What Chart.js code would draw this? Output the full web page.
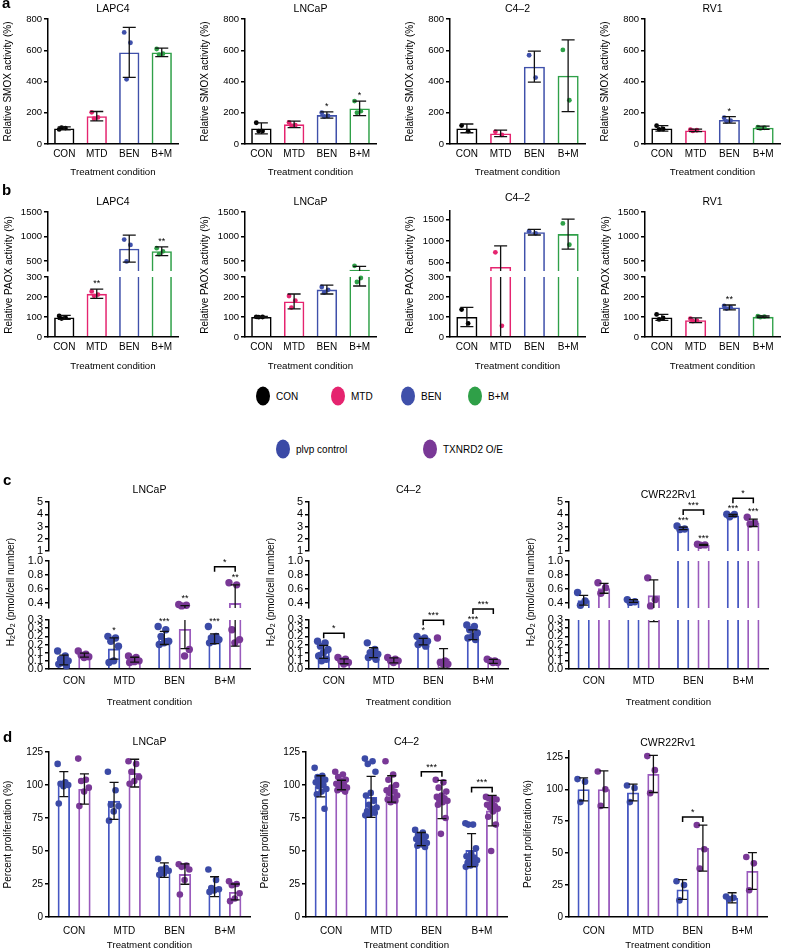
<!DOCTYPE html>
<html>
<head>
<meta charset="utf-8">
<script src="https://cdn.jsdelivr.net/npm/chart.js@4.4.1/dist/chart.umd.min.js"></script>
<style>
  body { margin: 0; background: #fff; }
  #fig { position: relative; width: 789px; height: 951px; overflow: hidden; background: #fff;
         font-family: 'Liberation Sans', Arial, Helvetica, sans-serif; color: #000; }
  #fig canvas { position: absolute; }
  .letter { position: absolute; font-weight: bold; font-size: 15px; line-height: 15px; }
  .leg { position: absolute; font-size: 10px; white-space: nowrap; transform: translateY(-50%); }
  .dot { position: absolute; width: 14px; height: 19px; border-radius: 50%; transform: translate(-50%, -50%); }
</style>
</head>
<body>
<div id="fig"></div>
<script>
/* SMOX / PAOX / H2O2 / proliferation panels, bars = mean, whiskers = SD */

const FONT = "'Liberation Sans', Arial, Helvetica, sans-serif";

const conditions = ['CON', 'MTD', 'BEN', 'B+M'];
const conditionColors = ['#000000', '#e5246f', '#3f50aa', '#2fa048'];
const groupNames = ['plvp control', 'TXNRD2 O/E'];
const groupColors = ['#4657c2', '#9a5bbd'];
const groupPointColors = ['#3b4aa6', '#793896'];

// tick values per axis part
const smoxTicks = [0, 200, 400, 600, 800];
const paoxLowTicks = [0, 100, 200, 300];
const paoxHighTicks = [500, 1000, 1500];
const h2o2LowTicks = [0, 0.05, 0.1, 0.15, 0.2, 0.25, 0.3];
const h2o2LowTickLabels = ['0.0', '0.1', '0.1', '0.2', '0.2', '0.3', '0.3'];
const h2o2MidTicks = [0.4, 0.6, 0.8, 1.0];
const h2o2HighTicks = [1, 2, 3, 4, 5];
const proTicks = [0, 25, 50, 75, 100, 125];

// ---- a: relative SMOX activity ----
const smoxLapc4Mean = [100, 178, 586, 586];
const smoxLapc4Sd = [10, 30, 160, 27];
const smoxLapc4Pts = [[93, 102, 105], [203, 170, 162], [714, 648, 414], [608, 578, 572]];
const smoxLapc4Sig = ['', '', '', ''];

const smoxLncapMean = [100, 126, 185, 228];
const smoxLncapSd = [35, 21, 20, 47];
const smoxLncapPts = [[136, 83, 83], [138, 120, 118], [200, 180, 176], [275, 210, 200]];
const smoxLncapSig = ['', '', '*', '*'];

const smoxC42Mean = [100, 68, 495, 437];
const smoxC42Sd = [28, 21, 99, 230];
const smoxC42Pts = [[118, 82], [78, 58], [568, 425], [602, 280]];
const smoxC42Sig = ['', '', '', ''];

const smoxRv1Mean = [100, 87, 154, 104];
const smoxRv1Sd = [18, 8, 21, 10];
const smoxRv1Pts = [[117, 96, 94], [92, 88, 84], [168, 150, 145], [108, 104, 100]];
const smoxRv1Sig = ['', '', '*', ''];

// ---- b: relative PAOX activity ----
const paoxLapc4Mean = [98, 216, 755, 702];
const paoxLapc4Sd = [10, 23, 275, 90];
const paoxLapc4Pts = [[105, 98, 92], [228, 212, 206], [940, 830, 495], [765, 700, 642]];
const paoxLapc4Sig = ['', '**', '', '**'];

const paoxLncapMean = [100, 178, 237, 325];
const paoxLncapSd = [3, 37, 22, 70];
const paoxLncapPts = [[101, 100, 99], [205, 182, 147], [250, 236, 222], [405, 295, 275]];
const paoxLncapSig = ['', '', '', ''];

const paoxC42Mean = [100, 396, 1205, 1161];
const paoxC42Sd = [48, 490, 65, 350];
const paoxC42Pts = [[137, 68], [736, 56], [1230, 1180], [1409, 913]];
const paoxC42Sig = ['', '', '', ''];

const paoxRv1Mean = [98, 84, 148, 101];
const paoxRv1Sd = [15, 12, 12, 4];
const paoxRv1Pts = [[113, 95, 88], [92, 82, 79], [155, 148, 142], [104, 102, 99]];
const paoxRv1Sig = ['', '', '**', ''];

// ---- c: H2O2 (plvp control, TXNRD2 O/E) ----
const h2o2LncapMean = [[0.055, 0.125, 0.19, 0.185], [0.085, 0.057, 0.245, 0.40]];
const h2o2LncapSd = [[0.03, 0.065, 0.04, 0.03], [0.012, 0.015, 0.12, 0.26]];
const h2o2LncapPts = [
  [[0.11, 0.08, 0.06, 0.05, 0.04, 0.03, 0.02], [0.20, 0.19, 0.17, 0.14, 0.05, 0.04],
   [0.26, 0.24, 0.20, 0.17, 0.16, 0.15], [0.26, 0.20, 0.19, 0.18, 0.17, 0.16]],
  [[0.11, 0.09, 0.085, 0.075, 0.07], [0.08, 0.07, 0.06, 0.05, 0.045, 0.04],
   [0.38, 0.37, 0.36, 0.12, 0.08], [0.69, 0.66, 0.24, 0.18, 0.16]]
];
const h2o2LncapSig = [['', '*', '***', '***'], ['', '', '**', '**']];
const h2o2LncapBrk = [[3, '*']];

const h2o2C42Mean = [[0.105, 0.10, 0.168, 0.21], [0.047, 0.053, 0.065, 0.047]];
const h2o2C42Sd = [[0.04, 0.03, 0.02, 0.03], [0.015, 0.015, 0.06, 0.012]];
const h2o2C42Pts = [
  [[0.17, 0.16, 0.14, 0.12, 0.10, 0.08, 0.06, 0.05], [0.16, 0.12, 0.10, 0.09, 0.08, 0.07, 0.06],
   [0.20, 0.19, 0.18, 0.17, 0.16, 0.15, 0.14], [0.27, 0.26, 0.24, 0.22, 0.20, 0.19, 0.18]],
  [[0.07, 0.06, 0.05, 0.04, 0.03], [0.07, 0.06, 0.05, 0.05, 0.04],
   [0.19, 0.05, 0.04, 0.03, 0.03], [0.06, 0.05, 0.05, 0.04, 0.04]]
];
const h2o2C42Sig = [['', '', '*', '***'], ['', '', '', '']];
const h2o2C42Brk = [[0, '*'], [2, '***'], [3, '***']];

const h2o2RvMean = [[0.44, 0.43, 2.85, 3.9], [0.61, 0.51, 1.5, 3.3]];
const h2o2RvSd = [[0.07, 0.02, 0.1, 0.08], [0.07, 0.22, 0.04, 0.3]];
const h2o2RvPts = [
  [[0.55, 0.43, 0.37], [0.45, 0.42, 0.41], [3.05, 2.8, 2.75], [4.0, 3.98, 3.8]],
  [[0.69, 0.62, 0.54], [0.76, 0.45, 0.36], [1.55, 1.5, 1.47], [3.75, 3.3, 3.2]]
];
const h2o2RvSig = [['', '', '***', '***'], ['', '', '***', '***']];
const h2o2RvBrk = [[2, '***'], [3, '*']];

// ---- d: percent proliferation ----
const proLncapMean = [[100.7, 88, 35.5, 23], [97, 109, 32.5, 19]];
const proLncapSd = [[9.5, 14, 5.5, 7.5], [11.5, 10.5, 7.7, 6]];
const proLncapPts = [
  [[116, 102, 101, 100, 99, 86], [110, 96, 85, 84, 80, 73], [44, 37, 36, 35, 33, 32], [36, 28, 22, 21, 20, 19]],
  [[120, 104, 103, 98, 95, 84], [118, 116, 110, 106, 103, 101], [40, 39, 38, 36, 28, 17], [27, 25, 24, 18, 14, 12]]
];

const proC42Mean = [[99, 91, 59, 50.7], [100, 97, 89, 80.6]];
const proC42Sd = [[8, 15.5, 5, 12.5], [3.6, 10, 14.5, 11.5]];
const proC42Pts = [
  [[113, 107, 106, 104, 103, 102, 100, 99, 97, 95, 93, 82],
   [120, 118, 116, 110, 94, 92, 88, 85, 83, 82, 80, 79, 78, 77],
   [66, 64, 62, 61, 60, 59, 58, 57, 56, 55, 54, 53],
   [71, 70, 70, 52, 48, 46, 45, 44, 43, 42, 41, 40, 39, 38]],
  [[110, 108, 106, 104, 103, 101, 100, 99, 98, 97, 96, 95],
   [118, 108, 104, 100, 98, 96, 95, 94, 92, 90, 89, 88, 87],
   [104, 102, 98, 95, 92, 91, 90, 89, 88, 87, 85, 75, 63],
   [91, 90, 90, 89, 87, 85, 84, 83, 82, 80, 76, 70, 50]]
];
const proC42Brk = [[2, '***'], [3, '***']];

const proRvMean = [[100, 97.5, 21.5, 15], [100, 112, 54, 36]];
const proRvSd = [[9, 6.5, 7.7, 4], [14.4, 14.5, 18, 14.4]];
const proRvPts = [
  [[108, 106, 90], [103, 101, 90], [28, 25, 13], [16, 15, 14]],
  [[114, 100, 87], [126, 115, 97], [72, 53, 38], [47, 42, 21]]
];
const proRvBrk = [[2, '*']];

Chart.defaults.font.family = FONT;
Chart.defaults.font.size = 10;
Chart.defaults.color = '#000';

const fig = document.getElementById('fig');

function addDiv(cls, html, x, y) {
  const d = document.createElement('div');
  d.className = cls;
  d.innerHTML = html;
  d.style.left = x + 'px';
  d.style.top = y + 'px';
  fig.appendChild(d);
  return d;
}

// spread points sideways inside their bar, same order every run
function jitter(k, n) {
  return n > 1 ? ((k * 0.618034) % 1) - 0.5 : 0;
}

function single(mean, sd, pts, sig) {
  return [{ mean, sd, pts, sig, line: conditionColors, dot: conditionColors }];
}

function grouped(mean, sd, pts, sig) {
  return mean.map((m, g) => ({
    mean: m, sd: sd[g], pts: pts[g], sig: sig ? sig[g] : null,
    line: groupColors[g], dot: groupPointColors[g]
  }));
}

// rotated axis title with optional subscripts, centred on (0,0)
function drawRich(ctx, parts, size) {
  const fontOf = sub => (sub ? size * 0.7 : size) + 'px ' + FONT;
  const widths = parts.map(([t, sub]) => { ctx.font = fontOf(sub); return ctx.measureText(t).width; });
  let x = -widths.reduce((a, b) => a + b, 0) / 2;
  parts.forEach(([t, sub], i) => {
    ctx.font = fontOf(sub);
    ctx.fillText(t, x, sub ? 2.5 : 0);
    x += widths[i];
  });
}

function makeMarks(o) {
  return {
    id: 'marks',
    afterDatasetsDraw(chart) {
      const { ctx, chartArea: a } = chart;
      const y = chart.scales.y;
      const px = v => y.getPixelForValue(Math.min(v, y.max));

      // points belong to the axis part that holds their value
      o.series.forEach((s, di) => {
        const bars = chart.getDatasetMeta(di).data;
        s.pts.forEach((vals, i) => {
          ctx.fillStyle = Array.isArray(s.dot) ? s.dot[i] : s.dot;
          vals.forEach((v, k) => {
            if (v < y.min || v > y.max) return;
            ctx.beginPath();
            ctx.arc(bars[i].x + jitter(k, vals.length) * bars[i].width * o.spread,
                    y.getPixelForValue(v), o.r, 0, 2 * Math.PI);
            ctx.fill();
          });
        });
      });

      // SD whiskers, cut at the edges of this axis part
      ctx.save();
      ctx.beginPath();
      ctx.rect(a.left - 20, a.top, a.right - a.left + 40, a.bottom - a.top);
      ctx.clip();
      ctx.strokeStyle = '#111';
      ctx.lineWidth = 1.3;
      o.series.forEach((s, di) => {
        const bars = chart.getDatasetMeta(di).data;
        s.mean.forEach((m, i) => {
          const x = bars[i].x;
          const hi = y.getPixelForValue(m + s.sd[i]);
          const lo = y.getPixelForValue(m - s.sd[i]);
          ctx.beginPath();
          ctx.moveTo(x, hi); ctx.lineTo(x, lo);
          ctx.moveTo(x - o.cap, hi); ctx.lineTo(x + o.cap, hi);
          ctx.moveTo(x - o.cap, lo); ctx.lineTo(x + o.cap, lo);
          ctx.stroke();
        });
      });
      ctx.restore();

      // significance stars and brackets
      const topVal = (s, i) => Math.max(s.mean[i] + s.sd[i], ...s.pts[i]);
      const inSeg = v => v >= o.lo && v < o.hi;
      ctx.save();
      ctx.fillStyle = '#000';
      ctx.strokeStyle = '#000';
      ctx.lineWidth = 1.5;
      ctx.font = '9px ' + FONT;
      ctx.textAlign = 'center';
      ctx.textBaseline = 'alphabetic';
      o.series.forEach((s, di) => {
        const bars = chart.getDatasetMeta(di).data;
        (s.sig || []).forEach((txt, i) => {
          if (!txt) return;
          const v = topVal(s, i);
          if (inSeg(v)) ctx.fillText(txt, bars[i].x, px(v) - 3);
        });
      });
      (o.brk || []).forEach(([i, txt]) => {
        const v = Math.max(...o.series.map(s => topVal(s, i)));
        if (!inSeg(v)) return;
        const starred = o.series.some(s => s.sig && s.sig[i]);
        const yb = px(v) - (starred ? 16 : 8);
        const x0 = chart.getDatasetMeta(0).data[i].x;
        const x1 = chart.getDatasetMeta(1).data[i].x;
        ctx.beginPath();
        ctx.moveTo(x0, yb + 5); ctx.lineTo(x0, yb); ctx.lineTo(x1, yb); ctx.lineTo(x1, yb + 5);
        ctx.stroke();
        ctx.fillText(txt, (x0 + x1) / 2, yb - 2);
      });
      if (o.title) {
        ctx.font = '10.5px ' + FONT;
        ctx.textBaseline = 'middle';
        ctx.fillText(o.title, (a.left + a.right) / 2, a.top - o.titleGap);
      }
      if (o.yTitle) {
        ctx.translate(o.yTitle.x, o.yTitle.y);
        ctx.rotate(-Math.PI / 2);
        ctx.textAlign = 'left';
        ctx.textBaseline = 'middle';
        drawRich(ctx, o.yTitle.parts, 10);
      }
      ctx.restore();
    }
  };
}

function buildPanel(cfg, st) {
  const [L, T, W, H] = cfg.box;
  const n = cfg.segs.length;
  cfg.segs.forEach((seg, si) => {
    const isBottom = si === 0;
    const isTop = si === n - 1;
    const cv = document.createElement('canvas');
    cv.width = W;
    cv.height = H;
    cv.style.left = L + 'px';
    cv.style.top = T + 'px';
    fig.appendChild(cv);
    const xH = isBottom ? T + H - seg.bottom : 0;
    const tickCb = seg.labels ? (v, i) => seg.labels[i]
      : seg.fixed ? v => v.toFixed(seg.fixed) : v => String(v);
    const yTitle = (n > 1 && isBottom) ? {
      x: cfg.yTitleAt[0] - L, y: cfg.yTitleAt[1] - T,
      parts: cfg.yRich || [[cfg.yTitle, false]]
    } : null;

    new Chart(cv, {
      type: 'bar',
      data: {
        labels: conditions,
        datasets: cfg.series.map(s => ({
          // bars lower than this axis part are left to the part below
          data: s.mean.map(v => (v >= seg.min ? v : null)),
          borderColor: s.line,
          backgroundColor: 'rgba(255,255,255,0)',
          borderWidth: st.bw,
          borderSkipped: 'start',
          categoryPercentage: st.catPct,
          barPercentage: st.barPct
        }))
      },
      options: {
        responsive: false,
        animation: false,
        devicePixelRatio: 1,
        events: [],
        layout: {
          padding: {
            left: 0,
            right: L + W - cfg.plotR,
            top: seg.top - T,
            bottom: isBottom ? 0 : T + H - seg.bottom
          }
        },
        scales: {
          x: {
            display: isBottom,
            border: { display: true, color: '#000', width: 1.5 },
            grid: { display: false, drawTicks: false },
            ticks: { padding: st.xPad, font: { size: 10 } },
            title: { display: true, text: 'Treatment condition', font: { size: 9.7 }, padding: { top: 0, bottom: 0 } },
            afterFit: s => { s.height = xH; }
          },
          y: {
            min: seg.min,
            max: seg.max,
            border: { display: true, color: '#000', width: 1.5 },
            grid: { display: true, drawOnChartArea: false, drawTicks: true, tickLength: 4, color: '#000', lineWidth: 1.5 },
            ticks: { autoSkip: false, padding: 2, font: { size: st.tick }, callback: tickCb },
            afterBuildTicks: axis => { axis.ticks = seg.ticks.map(v => ({ value: v })); },
            title: { display: n === 1, text: cfg.yTitle, font: { size: 10 }, padding: { top: 2, bottom: 0 } },
            afterFit: s => { s.width = cfg.plotL - L; }
          }
        },
        plugins: { legend: { display: false }, tooltip: { enabled: false } }
      },
      plugins: [makeMarks({
        series: cfg.series,
        lo: seg.min,
        hi: isTop ? Infinity : cfg.segs[si + 1].min,
        title: isTop ? cfg.title : null,
        titleGap: cfg.titleGap || 10,
        yTitle,
        brk: cfg.brk,
        r: st.r, cap: st.cap, spread: st.spread
      })]
    });
  });
}

const styleAB = { catPct: 0.8, barPct: 0.78, r: 2.4, cap: 6.5, spread: 0.5, xPad: 4, bw: 1.6, tick: 9.5 };
const styleC = { catPct: 0.82, barPct: 0.6, r: 3.7, cap: 4.5, spread: 1.0, xPad: 6, bw: 1.8, tick: 11 };
const styleD = { catPct: 0.82, barPct: 0.6, r: 3.3, cap: 4.5, spread: 1.0, xPad: 8, bw: 1.8, tick: 10 };

// ---- row a ----
const smoxAxis = [{ min: 0, max: 800, top: 19, bottom: 144, ticks: smoxTicks }];
const smoxTitle = 'Relative SMOX activity (%)';
buildPanel({ box: [0, 0, 185, 178], plotL: 48, plotR: 178, segs: smoxAxis, title: 'LAPC4', yTitle: smoxTitle,
  series: single(smoxLapc4Mean, smoxLapc4Sd, smoxLapc4Pts, smoxLapc4Sig) }, styleAB);
buildPanel({ box: [197, 0, 185, 178], plotL: 245, plotR: 376, segs: smoxAxis, title: 'LNCaP', yTitle: smoxTitle,
  series: single(smoxLncapMean, smoxLncapSd, smoxLncapPts, smoxLncapSig) }, styleAB);
buildPanel({ box: [402, 0, 189, 178], plotL: 450, plotR: 585, segs: smoxAxis, title: 'C4\u20132', yTitle: smoxTitle,
  series: single(smoxC42Mean, smoxC42Sd, smoxC42Pts, smoxC42Sig) }, styleAB);
buildPanel({ box: [597, 0, 189, 178], plotL: 645, plotR: 780, segs: smoxAxis, title: 'RV1', yTitle: smoxTitle,
  series: single(smoxRv1Mean, smoxRv1Sd, smoxRv1Pts, smoxRv1Sig) }, styleAB);

// ---- row b (broken axis) ----
const paoxAxis = [
  { min: 0, max: 300, top: 277, bottom: 337, ticks: paoxLowTicks },
  { min: 300, max: 1500, top: 212, bottom: 271, ticks: paoxHighTicks }
];
const paoxAxisC42 = [
  { min: 0, max: 300, top: 277, bottom: 337, ticks: paoxLowTicks },
  { min: 300, max: 1700, top: 211, bottom: 271, ticks: paoxHighTicks }
];
const paoxTitle = 'Relative PAOX activity (%)';
buildPanel({ box: [0, 190, 185, 182], plotL: 48, plotR: 178, segs: paoxAxis, title: 'LAPC4', yTitle: paoxTitle, yTitleAt: [9, 275],
  series: single(paoxLapc4Mean, paoxLapc4Sd, paoxLapc4Pts, paoxLapc4Sig) }, styleAB);
buildPanel({ box: [197, 190, 185, 182], plotL: 245, plotR: 376, segs: paoxAxis, title: 'LNCaP', yTitle: paoxTitle, yTitleAt: [205, 275],
  series: single(paoxLncapMean, paoxLncapSd, paoxLncapPts, paoxLncapSig) }, styleAB);
buildPanel({ box: [402, 190, 189, 182], plotL: 450, plotR: 585, segs: paoxAxisC42, title: 'C4\u20132', yTitle: paoxTitle, yTitleAt: [410, 275],
  series: single(paoxC42Mean, paoxC42Sd, paoxC42Pts, paoxC42Sig), titleGap: 13 }, styleAB);
buildPanel({ box: [597, 190, 189, 182], plotL: 645, plotR: 780, segs: paoxAxis, title: 'RV1', yTitle: paoxTitle, yTitleAt: [606, 275],
  series: single(paoxRv1Mean, paoxRv1Sd, paoxRv1Pts, paoxRv1Sig) }, styleAB);

// ---- legends ----
const legendX = [263, 338, 408, 475];
conditions.forEach((c, i) => {
  addDiv('dot', '', legendX[i], 396).style.background = conditionColors[i];
  addDiv('leg', c, legendX[i] + 13, 396);
});
const groupLegendX = [283, 430];
groupNames.forEach((g, i) => {
  addDiv('dot', '', groupLegendX[i], 449).style.background = groupPointColors[i];
  addDiv('leg', g, groupLegendX[i] + 13, 449);
});

// ---- row c (three-part axis) ----
const h2o2Axis = [
  { min: 0, max: 0.3, top: 620, bottom: 669, ticks: h2o2LowTicks, labels: h2o2LowTickLabels },
  { min: 0.33, max: 1.0, top: 561, bottom: 608, ticks: h2o2MidTicks, fixed: 1 },
  { min: 1, max: 5, top: 502, bottom: 551, ticks: h2o2HighTicks }
];
const h2o2Title = 'H2O2 (pmol/cell number)';
const h2o2Rich = [['H', false], ['2', true], ['O', false], ['2', true], [' (pmol/cell number)', false]];
buildPanel({ box: [0, 478, 256, 230], plotL: 49, plotR: 250, segs: h2o2Axis, title: 'LNCaP', yTitle: h2o2Title, yRich: h2o2Rich,
  yTitleAt: [11, 592], titleGap: 12,
  series: grouped(h2o2LncapMean, h2o2LncapSd, h2o2LncapPts, h2o2LncapSig), brk: h2o2LncapBrk }, styleC);
buildPanel({ box: [260, 478, 254, 230], plotL: 309, plotR: 508, segs: h2o2Axis, title: 'C4\u20132', yTitle: h2o2Title, yRich: h2o2Rich,
  yTitleAt: [271, 592], titleGap: 12,
  series: grouped(h2o2C42Mean, h2o2C42Sd, h2o2C42Pts, h2o2C42Sig), brk: h2o2C42Brk }, styleC);
buildPanel({ box: [520, 478, 254, 230], plotL: 569, plotR: 768, segs: h2o2Axis, title: 'CWR22Rv1', yTitle: h2o2Title, yRich: h2o2Rich,
  yTitleAt: [531, 592], titleGap: 7,
  series: grouped(h2o2RvMean, h2o2RvSd, h2o2RvPts, h2o2RvSig), brk: h2o2RvBrk }, styleC);

// ---- row d ----
const proTitle = 'Percent proliferation (%)';
const proAxis = [{ min: 0, max: 125, top: 752, bottom: 917, ticks: proTicks }];
const proAxisRv = [{ min: 0, max: 130, top: 751, bottom: 917, ticks: proTicks }];
buildPanel({ box: [0, 730, 256, 221], plotL: 49, plotR: 250, segs: proAxis, title: 'LNCaP', yTitle: proTitle,
  series: grouped(proLncapMean, proLncapSd, proLncapPts, null) }, styleD);
buildPanel({ box: [257, 730, 256, 221], plotL: 306, plotR: 507, segs: proAxis, title: 'C4\u20132', yTitle: proTitle,
  series: grouped(proC42Mean, proC42Sd, proC42Pts, null), brk: proC42Brk }, styleD);
buildPanel({ box: [520, 730, 254, 221], plotL: 569, plotR: 767, segs: proAxisRv, title: 'CWR22Rv1', yTitle: proTitle, titleGap: 8,
  series: grouped(proRvMean, proRvSd, proRvPts, null), brk: proRvBrk }, styleD);

// ---- panel letters ----
addDiv('letter', 'a', 2, -5);
addDiv('letter', 'b', 2, 182);
addDiv('letter', 'c', 3, 472);
addDiv('letter', 'd', 3, 729);
</script>
</body>
</html>
